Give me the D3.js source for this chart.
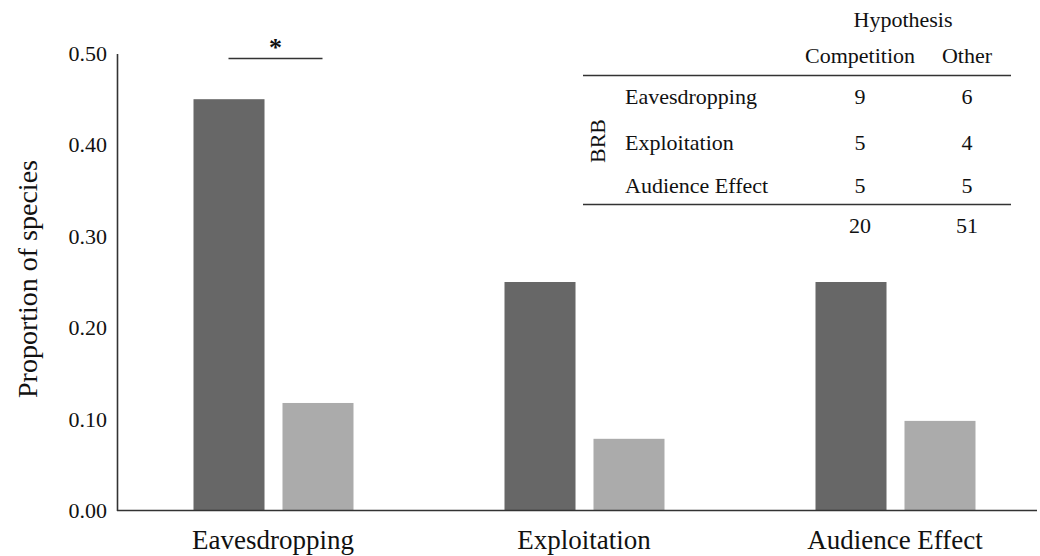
<!DOCTYPE html>
<html>
<head>
<meta charset="utf-8">
<script src="https://cdn.jsdelivr.net/npm/d3@7"></script>
<style>
  body { margin: 0; background: #fff; }
</style>
</head>
<body>
<svg id="chart" width="1040" height="556"></svg>
<script>
// Proportion of species by BRB type, competition vs other hypotheses
var categories = ['Eavesdropping', 'Exploitation', 'Audience Effect'],
    groups = ['Competition', 'Other'],
    // counts per category and totals (from the inset table)
    competitionCounts = [9, 5, 5],
    otherCounts = [6, 4, 5],
    totals = [20, 51],
    yTicks = [0, 0.1, 0.2, 0.3, 0.4, 0.5];

var colors = { Competition: '#676767', Other: '#ababab' };
var serif = "'Liberation Serif', 'DejaVu Serif', 'Times New Roman', Times, serif";

var svg = d3.select('#chart').style('font-family', serif);

var x0 = d3.scaleBand().domain(categories).range([117.5, 1050.5]),
    x1 = d3.scaleBand().domain(groups).range([76, 236]).paddingInner(0.202),
    y = d3.scaleLinear().domain([0, 0.5]).range([510.5, 53.5]);

var rows = categories.map(function(c, i) {
  return {
    category: c,
    values: [
      { group: 'Competition', value: competitionCounts[i] / totals[0] },
      { group: 'Other', value: otherCounts[i] / totals[1] }
    ]
  };
});

// bars
var cat = svg.selectAll('.cat').data(rows).enter()
  .append('g')
    .attr('class', 'cat')
    .attr('transform', function(d) { return 'translate(' + x0(d.category) + ',0)'; });

cat.selectAll('rect').data(function(d) { return d.values; }).enter()
  .append('rect')
    .attr('x', function(d) { return x1(d.group); })
    .attr('width', x1.bandwidth())
    .attr('y', function(d) { return y(d.value); })
    .attr('height', function(d) { return y(0) - y(d.value); })
    .attr('fill', function(d) { return colors[d.group]; });

// y axis
var yAxis = svg.append('g')
  .attr('transform', 'translate(117,0)')
  .call(d3.axisLeft(y).tickValues(yTicks).tickFormat(d3.format('.2f')).tickSize(0).tickPadding(10));
yAxis.attr('font-family', null).attr('font-size', null);
yAxis.select('.domain').attr('stroke', '#333').attr('stroke-width', 1.6);
yAxis.selectAll('text').attr('fill', '#111')
  .style('font-family', serif).style('font-size', '22px');

// x axis
var xAxis = svg.append('g')
  .attr('transform', 'translate(0,' + y(0) + ')')
  .call(d3.axisBottom(x0).tickSize(0).tickPadding(19));
xAxis.attr('font-family', null).attr('font-size', null);
xAxis.select('.domain').attr('d', 'M117,0H1037').attr('stroke', '#333').attr('stroke-width', 1.6);
xAxis.selectAll('text').attr('fill', '#111')
  .style('font-family', serif).style('font-size', '27px');

// y title
svg.append('text')
  .attr('transform', 'translate(37,' + 279 + ') rotate(-90)')
  .attr('text-anchor', 'middle')
  .attr('fill', '#111')
  .style('font-family', serif).style('font-size', '28px')
  .text('Proportion  of  species');

// significance marker over Eavesdropping
var sigLeft = x0('Eavesdropping') + 111, sigRight = x0('Eavesdropping') + 205;
svg.append('line')
  .attr('x1', sigLeft).attr('x2', sigRight)
  .attr('y1', 58.5).attr('y2', 58.5)
  .attr('stroke', '#333').attr('stroke-width', 1.4);
svg.append('text')
  .attr('x', (sigLeft + sigRight) / 2).attr('y', 56)
  .attr('text-anchor', 'middle')
  .attr('fill', '#111')
  .style('font-family', serif).style('font-size', '26px').style('font-weight', 'bold')
  .text('*');

// inset table
var table = svg.append('g').attr('fill', '#111')
  .style('font-family', serif).style('font-size', '22px');
var colX = { Competition: 860, Other: 967 };

table.append('text').attr('x', 903).attr('y', 27).attr('text-anchor', 'middle').text('Hypothesis');
groups.forEach(function(g) {
  table.append('text').attr('x', colX[g]).attr('y', 63).attr('text-anchor', 'middle').text(g);
});
table.append('line').attr('x1', 583).attr('x2', 1011).attr('y1', 75.5).attr('y2', 75.5)
  .attr('stroke', '#333').attr('stroke-width', 1.4);

var rowY = [104, 150, 193];
categories.forEach(function(c, i) {
  table.append('text').attr('x', 625).attr('y', rowY[i]).text(c);
  table.append('text').attr('x', colX.Competition).attr('y', rowY[i]).attr('text-anchor', 'middle').text(competitionCounts[i]);
  table.append('text').attr('x', colX.Other).attr('y', rowY[i]).attr('text-anchor', 'middle').text(otherCounts[i]);
});
table.append('line').attr('x1', 583).attr('x2', 1011).attr('y1', 204.5).attr('y2', 204.5)
  .attr('stroke', '#333').attr('stroke-width', 1.4);
groups.forEach(function(g, i) {
  table.append('text').attr('x', colX[g]).attr('y', 233).attr('text-anchor', 'middle').text(totals[i]);
});
table.append('text')
  .attr('transform', 'translate(605,141) rotate(-90)')
  .attr('text-anchor', 'middle')
  .text('BRB');
</script>
</body>
</html>
